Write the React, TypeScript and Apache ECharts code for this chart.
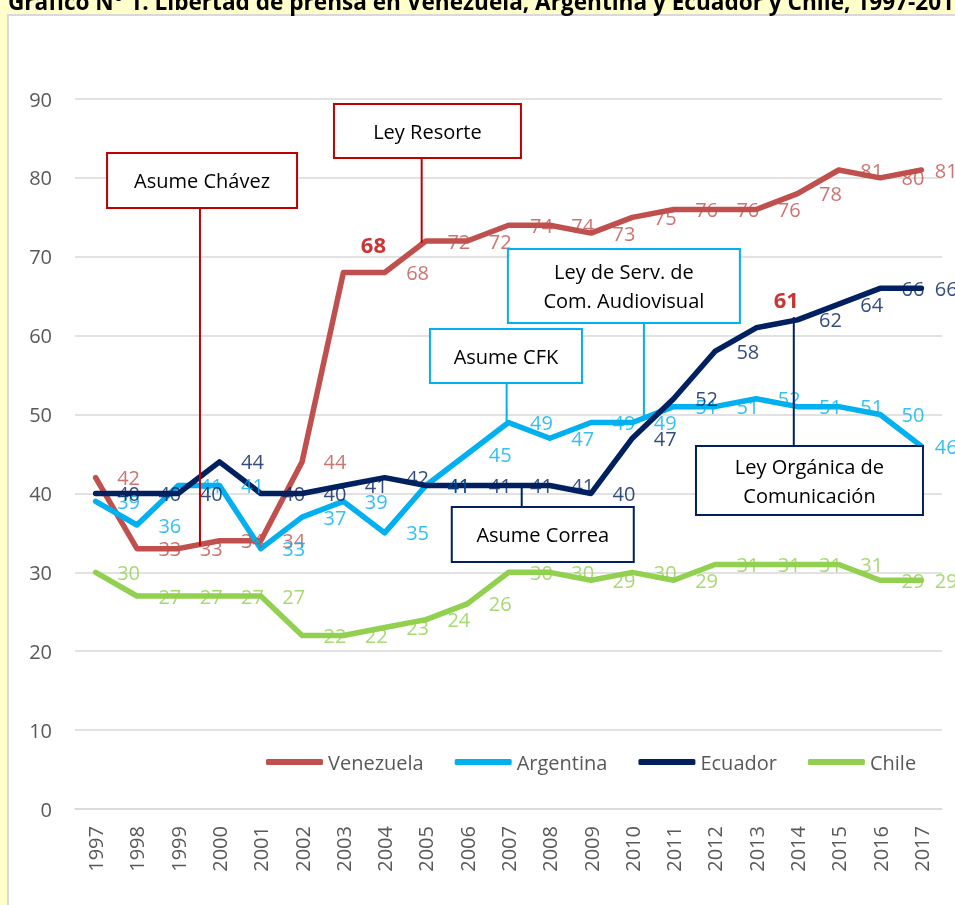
import React, { useEffect, useRef } from "react";
import * as echarts from "echarts";

// ---- Data ----
const years = ["1997","1998","1999","2000","2001","2002","2003","2004","2005","2006","2007","2008","2009","2010","2011","2012","2013","2014","2015","2016","2017"];
const venezuela = [42,33,33,34,34,44,68,68,72,72,74,74,73,75,76,76,76,78,81,80,81];
const argentina = [39,36,41,41,33,37,39,35,41,45,49,47,49,49,51,51,52,51,51,50,46];
const ecuador = [40,40,40,44,40,40,41,42,41,41,41,41,40,47,52,58,61,62,64,66,66];
const chile = [30,27,27,27,27,22,22,23,24,26,30,30,29,30,29,31,31,31,31,29,29];
const yTicks = [0,10,20,30,40,50,60,70,80,90];

const TITLE = "Gráfico N° 1. Libertad de prensa en Venezuela, Argentina y Ecuador y Chile, 1997-2017";

const seriesDefs = [
  { name: "Venezuela", data: venezuela, color: "#C0504D" },
  { name: "Argentina", data: argentina, color: "#00B0F0" },
  { name: "Ecuador", data: ecuador, color: "#002060" },
  { name: "Chile", data: chile, color: "#92D050" },
];

// highlighted labels: series name -> index
const highlights = [
  { name: "Venezuela", index: 6 },
  { name: "Ecuador", index: 16 },
];

// annotations in data units (category index, value)
const annotations = [
  { lines: ["Asume Chávez"], color: "#C00000", cx: 2.577, cy: 79.67, w: 190, h: 55, stemX: 2.527, stemTo: 33.34 },
  { lines: ["Ley Resorte"], color: "#C00000", cx: 8.037, cy: 85.94, w: 187, h: 54, stemX: 7.897, stemTo: 71.75 },
  { lines: ["Ley de Serv. de", "Com. Audiovisual"], color: "#00B0F0", cx: 12.795, cy: 66.29, w: 232, h: 74, stemX: 13.28, stemTo: 49.69 },
  { lines: ["Asume CFK"], color: "#00B0F0", cx: 9.938, cy: 57.42, w: 152, h: 54, stemX: 9.955, stemTo: 49.09 },
  { lines: ["Asume Correa"], color: "#002060", cx: 10.83, cy: 34.79, w: 182, h: 55, stemX: 10.32, stemTo: 40.94 },
  { lines: ["Ley Orgánica de", "Comunicación"], color: "#002060", cx: 17.29, cy: 41.64, w: 227, h: 69, stemX: 16.91, stemTo: 62.36 },
];

const W = 955;
const H = 905;
const GRID = { left: 75, right: 13, top: 99, bottom: 96 };
const Y_MAX = 90;
const FONT = "'Open Sans', 'Noto Sans', sans-serif";

export default function App() {
  const ref = useRef<HTMLDivElement>(null);

  useEffect(() => {
    if (!ref.current) return;
    const chart = echarts.init(ref.current, undefined, { renderer: "svg" });

    const plotW = W - GRID.left - GRID.right;
    const plotH = H - GRID.top - GRID.bottom;
    const band = plotW / years.length;
    const xOf = (i: number) => GRID.left + band * (i + 0.5);
    const yOf = (v: number) => GRID.top + ((Y_MAX - v) / Y_MAX) * plotH;

    const graphics: any[] = [
      { type: "rect", z: -10, silent: true, shape: { x: 0, y: 0, width: W, height: H }, style: { fill: "#FFFFCC" } },
      { type: "rect", z: -9, silent: true, shape: { x: 8, y: 15, width: W, height: H }, style: { fill: "#FFFFFF", stroke: "#D9D9D9", lineWidth: 2 } },
      {
        type: "text", z: 50, silent: true,
        style: { text: TITLE, x: 8, y: 1, align: "left", verticalAlign: "middle", fontFamily: FONT, fontSize: 22.6, fontWeight: "bold", fill: "#000000" },
      },
    ];

    annotations.forEach((a) => {
      const cx = xOf(a.cx);
      const cy = yOf(a.cy);
      const top = cy - a.h / 2;
      const bottom = cy + a.h / 2;
      const sx = xOf(a.stemX);
      const sy = yOf(a.stemTo);
      const y1 = sy > bottom ? bottom : sy;
      const y2 = sy > bottom ? sy : top;
      graphics.push({
        type: "line", z: 60, silent: true,
        shape: { x1: sx, y1, x2: sx, y2 },
        style: { stroke: a.color, lineWidth: 2 },
      });
      graphics.push({
        type: "rect", z: 61, silent: true,
        shape: { x: cx - a.w / 2, y: top, width: a.w, height: a.h },
        style: { fill: "#FFFFFF", stroke: a.color, lineWidth: 2 },
      });
      graphics.push({
        type: "text", z: 62, silent: true,
        style: {
          text: a.lines.join("\n"), x: cx, y: cy, align: "center", verticalAlign: "middle",
          fontFamily: FONT, fontSize: 20, lineHeight: 29, fill: "#000000",
        },
      });
    });

    const lineSeries = seriesDefs.map((s) => ({
      name: s.name,
      type: "line",
      data: s.data,
      color: s.color,
      symbol: "none",
      lineStyle: { color: s.color, width: 5.5, cap: "round", join: "round" },
      itemStyle: { color: s.color },
      silent: true,
      z: 2,
    }));

    const labelSeries = seriesDefs.map((s) => ({
      name: "lbl-" + s.name,
      type: "scatter",
      symbolSize: 1,
      itemStyle: { color: "rgba(0,0,0,0)" },
      silent: true,
      z: 5,
      label: {
        show: true,
        position: "right",
        distance: 21,
        color: s.color,
        fontFamily: FONT,
        fontSize: 20,
        formatter: (p: any) => String(p.value[1]),
      },
      data: s.data.map((v, i) => {
        const hl = highlights.find((h) => h.name === s.name && h.index === i);
        const item: any = { value: [i, v] };
        if (hl) {
          item.label = { color: "#C00000", fontWeight: "bold", fontSize: 22, distance: 17, offset: [0, -29] };
        } else if (i === s.data.length - 1) {
          item.label = { distance: 13 };
        }
        return item;
      }),
    }));

    chart.setOption({
      animation: false,
      graphic: graphics,
      grid: { left: GRID.left, right: GRID.right, top: GRID.top, bottom: GRID.bottom, containLabel: false },
      legend: {
        data: seriesDefs.map((s) => s.name),
        left: 266,
        top: 752,
        padding: 0,
        icon: "roundRect",
        itemWidth: 57,
        itemHeight: 6,
        itemGap: 31,
        selectedMode: false,
        textStyle: { color: "#595959", fontFamily: FONT, fontSize: 20 },
      },
      xAxis: {
        type: "category",
        data: years,
        boundaryGap: true,
        axisLine: { lineStyle: { color: "#D9D9D9", width: 1.5 } },
        axisTick: { show: false },
        axisLabel: { rotate: 90, margin: 17, color: "#595959", fontFamily: FONT, fontSize: 20, interval: 0 },
      },
      yAxis: {
        type: "value",
        min: yTicks[0],
        max: yTicks[yTicks.length - 1],
        interval: 10,
        axisLine: { show: false },
        axisTick: { show: false },
        splitLine: { lineStyle: { color: "#D9D9D9", width: 1.5 } },
        axisLabel: { margin: 23, color: "#595959", fontFamily: FONT, fontSize: 20 },
      },
      series: [...lineSeries, ...labelSeries],
    });

    return () => chart.dispose();
  }, []);

  return (
    <div
      ref={ref}
      style={{ position: "fixed", left: 0, top: 0, width: W, height: H }}
    />
  );
}
